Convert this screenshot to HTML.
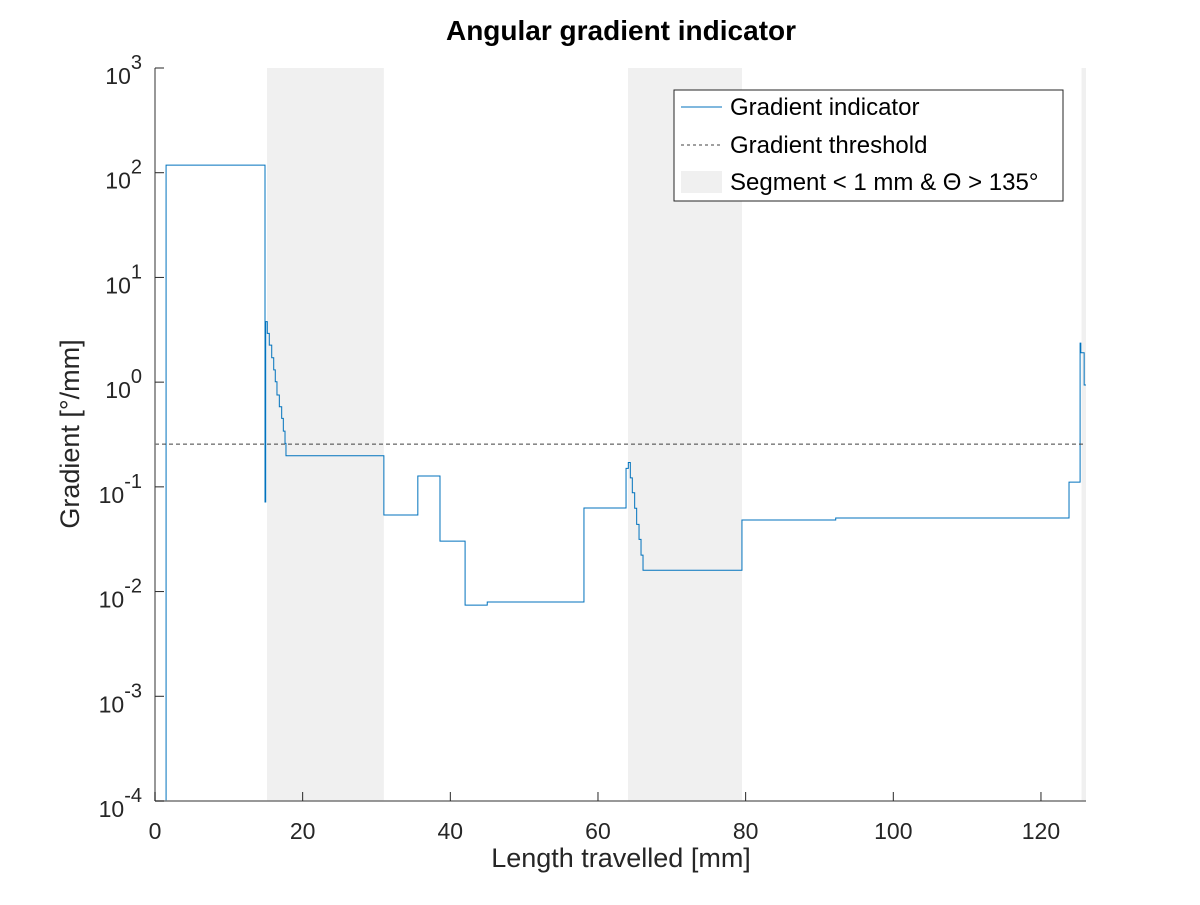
<!DOCTYPE html>
<html><head><meta charset="utf-8"><style>
body{margin:0;background:#fff;}
svg text{font-family:"Liberation Sans",sans-serif;fill:#262626;}
</style></head><body>
<svg id="chart" width="1200" height="900" xmlns="http://www.w3.org/2000/svg">
<rect width="1200" height="900" fill="#fff"/>
<g id="shades"></g>
<g id="grid"></g>
<g id="series"></g>
<g id="axes"></g>
<text x="621" y="40" text-anchor="middle" font-size="28" font-weight="bold" style="fill:#000">Angular gradient indicator</text>
<text x="621" y="867" text-anchor="middle" font-size="27">Length travelled [mm]</text>
<text transform="translate(79,434) rotate(-90)" text-anchor="middle" font-size="27">Gradient [°/mm]</text>
<g>
<rect x="674" y="90" width="389" height="111" fill="#fff" stroke="#262626" stroke-width="1"/>
<line x1="681" y1="107" x2="722" y2="107" stroke="#0072BD" stroke-width="1"/>
<text x="730" y="115" font-size="24" style="fill:#000">Gradient indicator</text>
<line x1="681" y1="145" x2="722" y2="145" stroke="#404040" stroke-width="1" stroke-dasharray="3,3"/>
<text x="730" y="153" font-size="24" style="fill:#000">Gradient threshold</text>
<rect x="681" y="171" width="41" height="22" fill="#f0f0f0"/>
<text x="730" y="190" font-size="24" style="fill:#000">Segment &lt; 1 mm &amp; Θ &gt; 135°</text>
</g>
</svg>
<script>
const xTicks=[0,20,40,60,80,100,120];
const yTickExp=[-4,-3,-2,-1,0,1,2,3];
const shadeStarts=[15.17,64.07,125.5];
const shadeEnds=[31.0,79.5,126.1];
const threshold=0.256;
const stepX=[1.5,14.9,15.0,15.21,15.48,15.81,16.08,16.29,16.52,16.84,17.16,17.38,17.61,17.74,31.0,35.6,38.6,42.0,45.0,58.1,63.8,64.11,64.38,64.65,64.97,65.24,65.56,65.83,66.10,79.5,92.2,123.8,125.3,125.4,125.85,126.1];
const stepY=[118,0.0716,3.78,2.92,2.26,1.71,1.31,1.01,0.753,0.582,0.451,0.341,0.26,0.198,0.0538,0.127,0.0303,0.00743,0.00794,0.0628,0.150,0.171,0.122,0.0879,0.0624,0.0438,0.0315,0.0223,0.016,0.0482,0.0504,0.111,2.36,1.91,0.94,0.94];

const X0=155,X1=1086,Y0=801,Y1=68,XMAX=126.1;
const sx=v=>X0+v/XMAX*(X1-X0);
const sy=v=>Y0-(Math.log10(v)+4)/7*(Y0-Y1);
const NS='http://www.w3.org/2000/svg';
function mk(tag,attrs,parent){const e=document.createElementNS(NS,tag);for(const k in attrs)e.setAttribute(k,attrs[k]);(typeof parent==='string'?document.getElementById(parent):parent).appendChild(e);return e;}

shadeStarts.forEach((s,i)=>{
 const r=mk('rect',{x:sx(s),y:Y1,width:sx(shadeEnds[i])-sx(s),height:Y0-Y1,fill:'#f0f0f0'},'shades');
 
 
});

let d='M'+sx(stepX[0])+','+Y0+' L'+sx(stepX[0])+','+sy(stepY[0]);
for(let i=1;i<stepX.length;i++){
 d+=' L'+sx(stepX[i])+','+sy(stepY[i-1])+' L'+sx(stepX[i])+','+sy(stepY[i]);
}
const line=mk('path',{d:d,fill:'none',stroke:'#0072BD','stroke-width':1},'series');



const th=mk('line',{x1:X0,x2:X1,y1:sy(threshold),y2:sy(threshold),stroke:'#404040','stroke-width':1,'stroke-dasharray':'4,3'},'series');



const ax=mk('line',{x1:X0,x2:X1,y1:Y0,y2:Y0,stroke:'#777','stroke-width':1.5},'axes');


const ay=mk('line',{x1:X0,x2:X0,y1:Y0,y2:Y1,stroke:'#777','stroke-width':1.5},'axes');



xTicks.forEach(t=>{
 const x=sx(t);
 const tk=mk('line',{x1:x,x2:x,y1:Y0,y2:Y0-9,stroke:'#262626'},'axes');
 
 
 const tx=mk('text',{x:x,y:839,'text-anchor':'middle','font-size':23},'axes');
 tx.textContent=t;
 
 
});
yTickExp.forEach(e=>{
 const y=sy(Math.pow(10,e));
 const tk=mk('line',{x1:X0,x2:X0+9,y1:y,y2:y,stroke:'#262626'},'axes');
 
 
 const tx=mk('text',{x:142,y:y+16,'text-anchor':'end','font-size':23},'axes');
 
 
 tx.appendChild(document.createTextNode('10'));
 const sup=mk('tspan',{dy:-15,'font-size':20},tx);
 sup.textContent=String(e);
 
 
});
</script>
</body></html>
